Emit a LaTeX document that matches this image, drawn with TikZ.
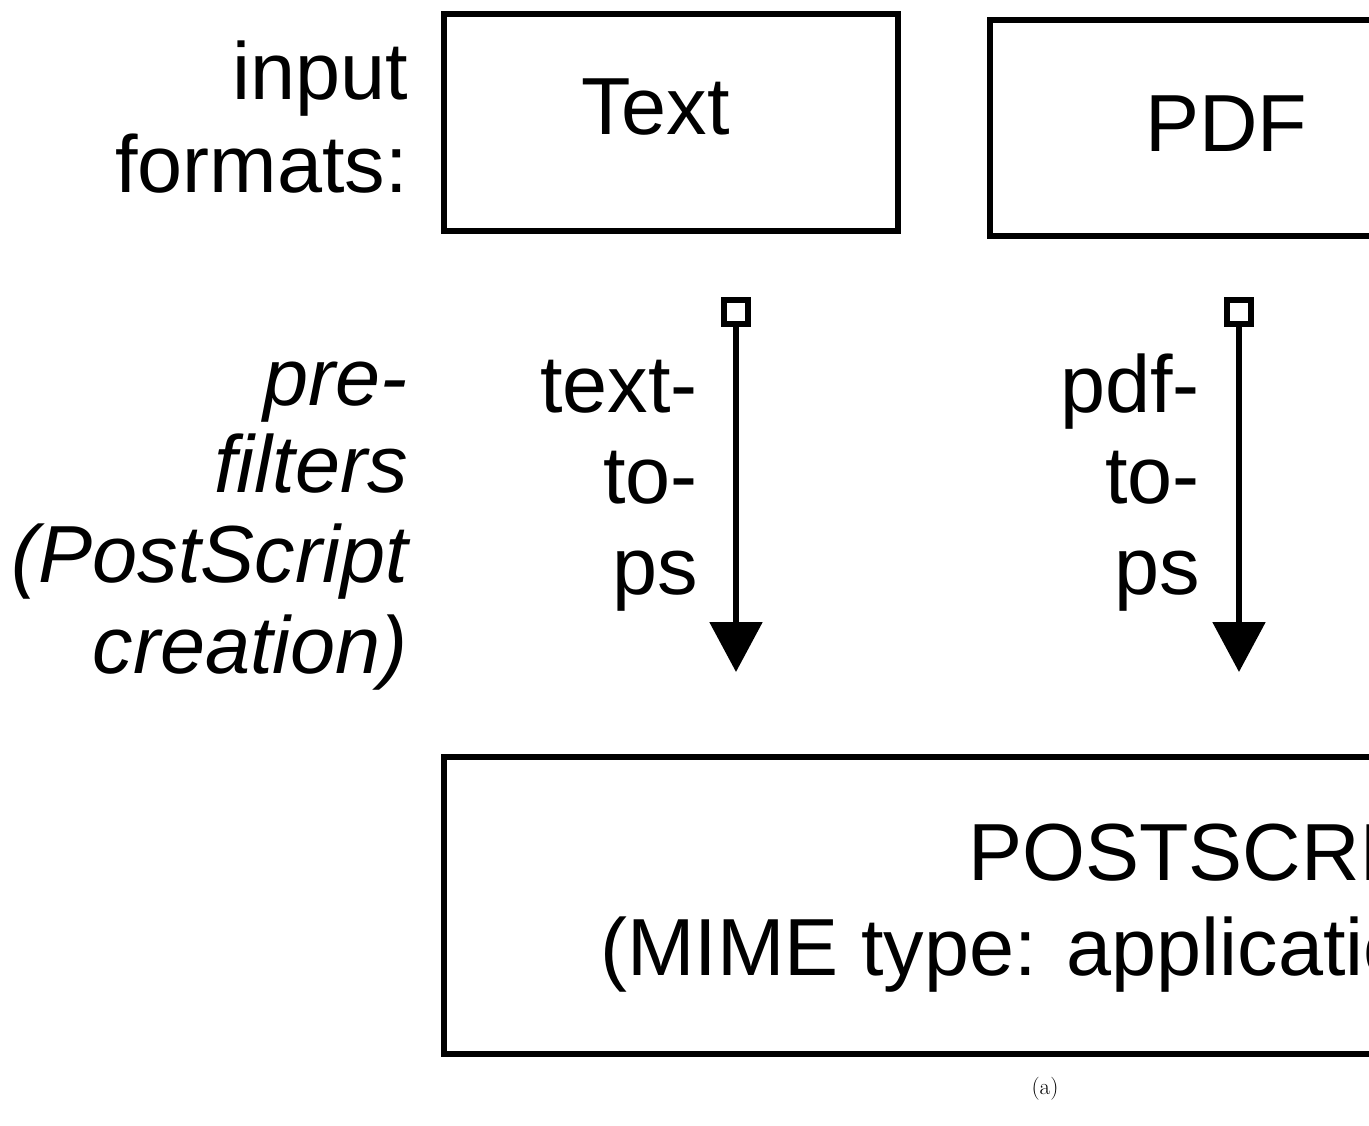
\documentclass[tikz,border=0pt]{standalone}
\usepackage{fontspec}
\setsansfont{Liberation Sans}
\usetikzlibrary{arrows.meta}
\begin{document}
\begin{tikzpicture}[x=1pt,y=-1pt,
  box/.style={draw, line width=5.5pt, inner sep=0pt},
  lbl/.style={font=\sffamily\fontsize{81}{93}\selectfont, inner sep=0pt},
  ilbl/.style={font=\sffamily\itshape\fontsize{81}{93}\selectfont, inner sep=0pt},
  sqr/.style={draw, line width=5.5pt, minimum size=24pt, inner sep=0pt, fill=white},
  flow/.style={line width=5.5pt, -{Triangle[width=52pt,length=50pt]}}]
\useasboundingbox (0,0) rectangle (1369,1126);
\clip (0,0) rectangle (1369,1126);

% boxes
\node[box, minimum width=454pt, minimum height=217pt] (textbox) at (671,122.5) {};
\node[box, minimum width=454pt, minimum height=216pt] (pdfbox) at (1217,128) {};
\node[box, minimum width=1548pt, minimum height=297pt] (psbox) at (1218,905.5) {};

% box labels
\node[lbl, anchor=base west] (textlbl) at (581,135) {Text};
\node[lbl, anchor=base west] (pdflbl) at (1145,152) {PDF};
\node[lbl, anchor=base west] (pslbl) at (968,880) {POSTSCRIPT};
\node[lbl, anchor=base west] (mimelbl) at (600,975) {(MIME type: application/postscript)};

% row labels
\node[lbl, anchor=base east] (in1) at (408,100) {input};
\node[lbl, anchor=base east] (in2) at (408,193) {formats:};
\node[ilbl, anchor=base east] (pf1) at (408,405) {pre-};
\node[ilbl, anchor=base east] (pf2) at (408,492) {filters};
\node[ilbl, anchor=base east] (pf3) at (408,582) {(PostScript};
\node[ilbl, anchor=base east] (pf4) at (408,673) {creation)};

% filter labels
\node[lbl, anchor=base east] (tt1) at (698,412) {text-};
\node[lbl, anchor=base east] (tt2) at (698,503) {to-};
\node[lbl, anchor=base east] (tt3) at (698,594) {ps};
\node[lbl, anchor=base east] (pp1) at (1200,412) {pdf-};
\node[lbl, anchor=base east] (pp2) at (1200,503) {to-};
\node[lbl, anchor=base east] (pp3) at (1200,594) {ps};

% filter arrows
\node[sqr] (s1) at (736,312) {};
\coordinate (t1) at (736,672);
\draw[flow] (s1.south) -- (t1);
\node[sqr] (s2) at (1239,312) {};
\coordinate (t2) at (1239,672);
\draw[flow] (s2.south) -- (t2);

% caption
\node[font=\fontsize{23}{27}\selectfont, anchor=base, inner sep=0pt] (cap) at (1045,1094) {(a)};
\end{tikzpicture}
\end{document}
